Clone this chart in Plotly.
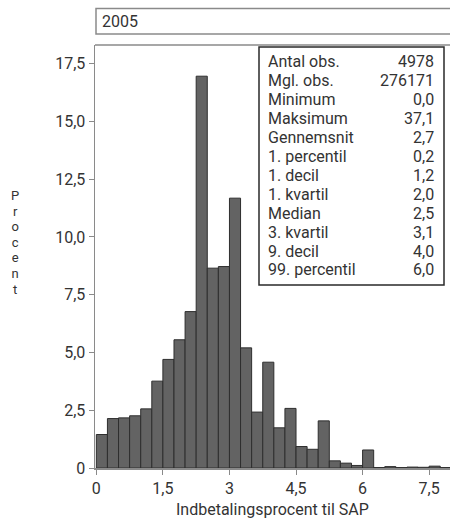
import numpy as np
import plotly.graph_objects as go

# ---- data ----
bin_width = 0.25
bin_start = [i * 0.25 for i in range(32)]
percent = [1.45, 2.14, 2.17, 2.26, 2.56, 3.76, 4.70, 5.55, 6.77, 16.96,
           8.65, 8.72, 11.68, 5.20, 2.42, 4.58, 1.74, 2.58, 0.93, 0.81,
           2.04, 0.31, 0.21, 0.11, 0.78, 0.02, 0.06, 0.02, 0.04, 0.03,
           0.08, 0.02]
x_tickvals = [0, 1.5, 3, 4.5, 6, 7.5]
x_ticktext = ["0", "1,5", "3", "4,5", "6", "7,5"]
y_tickvals = [0, 2.5, 5, 7.5, 10, 12.5, 15, 17.5]
y_ticktext = ["0", "2,5", "5,0", "7,5", "10,0", "12,5", "15,0", "17,5"]
stat_labels = ["Antal obs.", "Mgl. obs.", "Minimum", "Maksimum", "Gennemsnit",
               "1. percentil", "1. decil", "1. kvartil", "Median", "3. kvartil",
               "9. decil", "99. percentil"]
stat_values = ["4978", "276171", "0,0", "37,1", "2,7", "0,2", "1,2", "2,0",
               "2,5", "3,1", "4,0", "6,0"]
panel_title = "2005"
x_title = "Indbetalingsprocent til SAP"
y_title = "Procent"

# ---- layout geometry (pixels) ----
W, H = 450, 525
L, R, T, B = 95, 450, 45, 468
FONT = "Roboto"
TXT = "#333333"
GRID = "#8a8a8a"


def px(x):
    return (x - L) / (R - L)


def py(y):
    return (B - y) / (B - T)


centers = [s + bin_width / 2 for s in bin_start]

fig = go.Figure(go.Bar(
    x=centers, y=percent, width=bin_width,
    marker=dict(color="#636363", line=dict(color="#2e2e2e", width=1)),
    hoverinfo="skip",
))

annotations = []
shapes = []

# stats box
shapes.append(dict(type="rect", xref="paper", yref="paper",
                   x0=px(259), x1=px(444), y0=py(285), y1=py(47),
                   line=dict(color="#2a2a2a", width=1.5), fillcolor="white", layer="above"))
row0, dy = 61.7, 18.93
for i, (lab, val) in enumerate(zip(stat_labels, stat_values)):
    yy = py(row0 + i * dy)
    annotations.append(dict(xref="paper", yref="paper", x=px(266), y=yy, text=lab,
                            showarrow=False, xanchor="left", yanchor="middle",
                            font=dict(family=FONT, size=16, color=TXT)))
    annotations.append(dict(xref="paper", yref="paper", x=px(436), y=yy, text=val,
                            showarrow=False, xanchor="right", yanchor="middle",
                            font=dict(family=FONT, size=16, color=TXT)))

# panel strip
shapes.append(dict(type="rect", xref="paper", yref="paper",
                   x0=px(96), x1=px(452), y0=py(34), y1=py(8.5),
                   line=dict(color=GRID, width=1.5), fillcolor="white"))
annotations.append(dict(xref="paper", yref="paper", x=px(100), y=py(21.5), text=panel_title,
                        showarrow=False, xanchor="left", yanchor="middle",
                        font=dict(family=FONT, size=16, color=TXT)))

# top border of plot
shapes.append(dict(type="line", xref="paper", yref="paper", x0=0, x1=1.01, y0=1, y1=1,
                   line=dict(color=GRID, width=1.5)))

# vertical stacked y title
stacked = "<br>".join('<span style="font-size:13px">%s</span>' % ch for ch in y_title)
annotations.append(dict(xref="paper", yref="paper", x=px(15), y=py(242), text=stacked,
                        showarrow=False, xanchor="center", yanchor="middle",
                        font=dict(family=FONT, size=12, color=TXT)))

# x title
annotations.append(dict(xref="paper", yref="paper", x=px(272), y=py(510), text=x_title,
                        showarrow=False, xanchor="center", yanchor="middle",
                        font=dict(family=FONT, size=16, color=TXT)))

fig.update_layout(
    width=W, height=H,
    margin=dict(l=L, r=W - R, t=T, b=H - B, pad=0),
    paper_bgcolor="white", plot_bgcolor="white",
    showlegend=False,
    bargap=0,
    font=dict(family=FONT, size=16, color=TXT),
    xaxis=dict(range=[-0.03, 7.97], tickvals=x_tickvals, ticktext=x_ticktext,
               showgrid=False, zeroline=False, showline=True, linecolor=GRID, linewidth=1.5,
               ticks="outside", ticklen=5, tickcolor=GRID, tickwidth=1,
               tickfont=dict(family=FONT, size=16, color=TXT)),
    yaxis=dict(range=[0, 18.31], tickvals=y_tickvals, ticktext=y_ticktext,
               showgrid=False, zeroline=False, showline=True, linecolor=GRID, linewidth=1.5,
               ticks="outside", ticklen=5, tickcolor=GRID, tickwidth=1,
               tickfont=dict(family=FONT, size=16, color=TXT)),
    shapes=shapes,
    annotations=annotations,
)

fig.write_html("out.html", config={"displayModeBar": False, "staticPlot": True},
               post_script="document.body.style.margin='0';document.body.style.overflow='hidden';")
